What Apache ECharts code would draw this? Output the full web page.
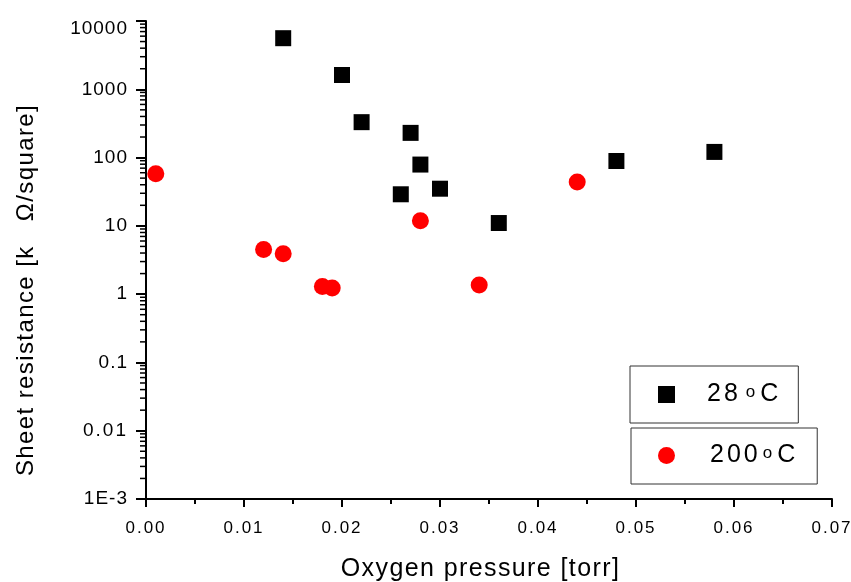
<!DOCTYPE html>
<html>
<head>
<meta charset="utf-8">
<script src="https://cdn.jsdelivr.net/npm/echarts@6/dist/echarts.min.js"></script>
<style>html,body{margin:0;padding:0;background:#fff;}#c{width:851px;height:582px;}</style>
</head>
<body>
<div id="c"></div>
<script>
// Data
const x28 = [0.014, 0.020, 0.022, 0.026, 0.027, 0.028, 0.030, 0.036, 0.048, 0.058];
const y28 = [5600, 1620, 330, 29, 230, 79, 35, 11, 89, 121];
const x200 = [0.001, 0.012, 0.014, 0.018, 0.019, 0.028, 0.034, 0.044];
const y200 = [58, 4.5, 3.9, 1.29, 1.23, 11.9, 1.36, 44];
const seriesNames = ['28 oC', '200 oC'];
const yTickLabels = ['1E-3', '0.01', '0.1', '1', '10', '100', '1000', '10000'];
const xTickLabels = ['0.00', '0.01', '0.02', '0.03', '0.04', '0.05', '0.06', '0.07'];
const xName = 'Oxygen pressure [torr]';
const yName = 'Sheet resistance [k   \u03A9/square]';
const yMinorTicks = [];
for (let e = -3; e < 4; e++) for (let m = 2; m <= 9; m++) yMinorTicks.push(m * Math.pow(10, e));

// Letter spacing like the original export (applied when canvas text is drawn)
function spacingFor(s) {
  s = String(s).trim();
  if (s === xName.trim() || s === yName.trim()) return '1.4px';
  if (xTickLabels.indexOf(s) >= 0) return '2px';
  if (yTickLabels.indexOf(s) >= 0) return '1px';
  if (s === '28' || s === '200') return '3px';
  return '0px';
}
(function () {
  const P = CanvasRenderingContext2D.prototype;
  if (!('letterSpacing' in P)) return;
  const origFill = P.fillText, origStroke = P.strokeText;
  P.fillText = function (t, x, y, w) {
    const prev = this.letterSpacing; this.letterSpacing = spacingFor(t);
    const r = w === undefined ? origFill.call(this, t, x, y) : origFill.call(this, t, x, y, w);
    this.letterSpacing = prev; return r;
  };
  P.strokeText = function (t, x, y, w) {
    const prev = this.letterSpacing; this.letterSpacing = spacingFor(t);
    const r = w === undefined ? origStroke.call(this, t, x, y) : origStroke.call(this, t, x, y, w);
    this.letterSpacing = prev; return r;
  };
})();

const FONT = 'Liberation Sans, Arial, sans-serif';
const chart = echarts.init(document.getElementById('c'), null, {renderer: 'canvas'});

function legendFmt(name) {
  const p = name.split(' ');
  const g = name === seriesNames[0] ? 'g' : 'h';
  return '{' + g + '|}{t|' + p[0] + '}{s|o}{t|C}';
}
const legendRich = {
  g: {width: 27},
  h: {width: 30},
  t: {fontSize: 25, fontFamily: FONT, color: '#000'},
  s: {fontSize: 17, fontFamily: FONT, color: '#000', padding: [0, 5, 5, 11]}
};

chart.setOption({
  animation: false,
  backgroundColor: '#fff',
  grid: {left: 146, right: 19, top: 21, bottom: 83, containLabel: false, outerBoundsMode: 'none'},
  xAxis: {
    type: 'value', min: 0, max: 0.07, interval: 0.01,
    name: xName, nameLocation: 'middle', nameGap: 58,
    nameTextStyle: {fontFamily: FONT, fontSize: 25, color: '#000', padding: [0, 17, 0, 0]},
    axisLine: {show: true, onZero: false, lineStyle: {color: '#000', width: 2}},
    axisTick: {show: true, inside: false, length: 8, lineStyle: {color: '#000', width: 2}},
    minorTick: {show: true, splitNumber: 2, length: 5, lineStyle: {color: '#000', width: 2}},
    axisLabel: {fontFamily: FONT, fontSize: 17, color: '#000', margin: 21,
      formatter: (v, i) => xTickLabels[i]},
    splitLine: {show: false}
  },
  yAxis: {
    type: 'log', logBase: 10, min: 0.001, max: 10000,
    name: yName, nameLocation: 'middle', nameGap: 108, nameRotate: 90,
    nameTextStyle: {fontFamily: FONT, fontSize: 24, color: '#000', padding: [0, 60, 0, 0]},
    axisLine: {show: true, onZero: false, lineStyle: {color: '#000', width: 2}},
    axisTick: {show: true, inside: false, length: 10, lineStyle: {color: '#000', width: 2}},
    axisLabel: {fontFamily: FONT, fontSize: 19, color: '#000', margin: 18,
      formatter: (v, i) => (i === yTickLabels.length - 1 ? '{top|' + yTickLabels[i] + '}' : yTickLabels[i]),
      rich: {top: {fontFamily: FONT, fontSize: 19, color: '#000', padding: [16, 0, 0, 0]}}},
    splitLine: {show: false}
  },
  legend: [
    {data: [seriesNames[0]], left: 630, top: 366, orient: 'vertical',
     padding: [16, 20, 16, 28], itemWidth: 17, itemHeight: 17,
     borderColor: '#333', borderWidth: 1, backgroundColor: '#fff',
     formatter: legendFmt, textStyle: {rich: legendRich}},
    {data: [seriesNames[1]], left: 631, top: 428, orient: 'vertical',
     padding: [15, 22, 16, 27], itemWidth: 17, itemHeight: 17,
     borderColor: '#333', borderWidth: 1, backgroundColor: '#fff',
     formatter: legendFmt, textStyle: {rich: legendRich}}
  ],
  series: [
    {name: seriesNames[0], type: 'scatter', symbol: 'rect', symbolSize: 16,
     itemStyle: {color: '#000', opacity: 1}, z: 3,
     data: x28.map((x, i) => [x, y28[i]])},
    {name: seriesNames[1], type: 'scatter', symbol: 'circle', symbolSize: 17,
     itemStyle: {color: '#ff0000', opacity: 1}, z: 2,
     data: x200.map((x, i) => [x, y200[i]])},
    {name: 'yMinor', type: 'custom', silent: true, clip: false, z: 1,
     data: yMinorTicks.map(v => [0, v]),
     renderItem: function (params, api) {
       const p = api.coord([api.value(0), api.value(1)]);
       return {type: 'line', shape: {x1: p[0] - 6, y1: p[1], x2: p[0], y2: p[1]},
               style: {stroke: '#000', lineWidth: 1.5}};
     }}
  ]
});
</script>
</body>
</html>
